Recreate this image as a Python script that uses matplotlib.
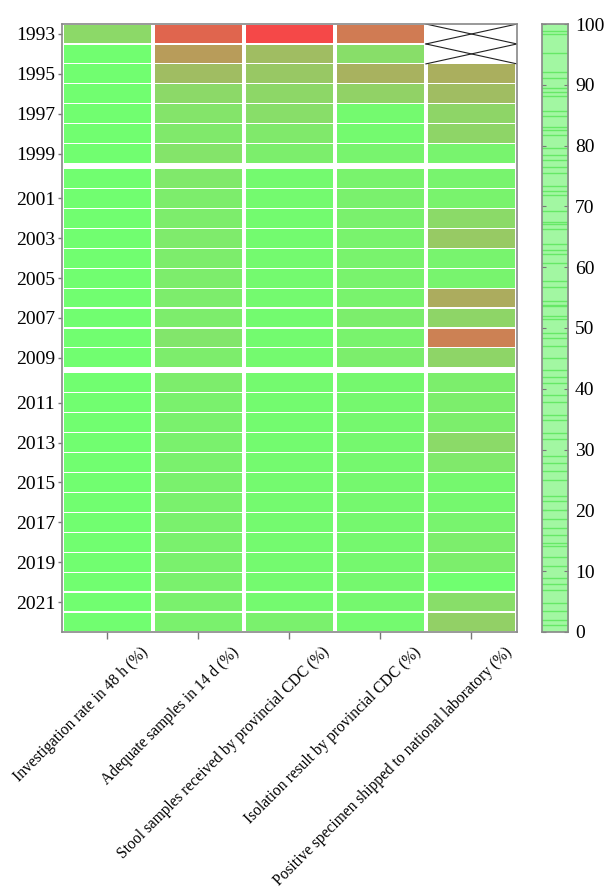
import matplotlib
matplotlib.use("Agg")
import matplotlib.pyplot as plt
import numpy as np
from matplotlib.colors import LinearSegmentedColormap, ListedColormap, Normalize
from matplotlib.patches import Rectangle
from matplotlib.transforms import ScaledTranslation

plt.rcParams["font.family"] = ["Liberation Serif", "DejaVu Serif"]

years = list(range(1993, 2023))
indicators = [
    "Investigation rate in 48 h (%)",
    "Adequate samples in 14 d (%)",
    "Stool samples received by provincial CDC (%)",
    "Isolation result by provincial CDC (%)",
    "Positive specimen shipped to national laboratory (%)",
]

# values per indicator, 1993..2022 (nan = not available)
investigation = [89.5] + [99.5] * 29
adequate = [58, 73, 82, 89.5, 92.5, 94, 92.5, 94, 95, 95,
            94.5, 95, 95, 95, 95, 93, 95, 95, 96, 96,
            96, 96, 96, 96, 96, 96, 96, 96, 96, 96]
stool = [50, 82, 85, 89, 91, 94, 95.5, 98.5, 98.5, 99,
         99, 98.5, 98.5, 98.5, 99, 99, 98.5, 98.5, 99, 99,
         99, 98.5, 98.5, 98.5, 98.5, 98.5, 98.5, 98.5, 98.5, 96]
isolation = [64, 91, 79, 87.5, 98.5, 98.5, 97, 96.5, 96, 96,
             96.5, 96.5, 96.5, 96.5, 95.5, 96.5, 95.5, 98, 98, 98,
             98, 98, 98, 98, 98, 98, 98, 98, 98, 98.5]
shipped = [np.nan, np.nan, 78, 82, 88.5, 88.5, 97, 97, 96.5, 90,
           85.5, 97, 97, 77.5, 88.5, 65.5, 88.5, 95.5, 95.5, 95.5,
           90, 94, 98, 98, 97, 95.5, 95.5, 100, 91, 87]

# levels of the thin lines drawn in the colour bar
bar_lines = [98.9, 98.4, 95.2, 92.1, 91.1, 89.5, 88.9, 88.1, 85.7, 84.9,
             83.1, 82.6, 81.8, 79.6, 78.5, 77.6, 76.5, 75.5, 73.3, 72.6,
             71.9, 69.2, 67.5, 67.1, 66.2, 63.8, 62.9, 62.1, 60.7, 57.7,
             56.7, 54.5, 53.6, 53.7, 52.0, 51.4, 49.2, 48.4, 47.0, 45.1,
             43.1, 42.0, 40.9, 39.0, 37.9, 35.7, 34.9, 32.7, 31.8, 28.9,
             27.8, 26.4, 25.0, 22.3, 21.5, 20.1, 18.5, 17.1, 16.0, 14.6,
             14.1, 12.4, 10.8, 8.8, 7.8, 6.9, 4.8, 3.4, 2.0, 1.2]

data = np.array([investigation, adequate, stool, isolation, shipped], dtype=float).T

cmap = LinearSegmentedColormap.from_list("rg", ["#f54848", "#70ff70"])
norm = Normalize(vmin=50, vmax=100)

GAP = 0.25
ypos = [i + GAP * (y >= 2000) + GAP * (y >= 2010) for i, y in enumerate(years)]

fig = plt.figure(figsize=(6.09, 8.9), dpi=100)
ax = fig.add_axes([0.1018, 0.290, 0.747, 0.683])

for i, y in enumerate(ypos):
    for j in range(len(indicators)):
        v = data[i, j]
        if np.isnan(v):
            ax.add_patch(Rectangle((j - 0.5, y - 0.5), 1.0, 1.0,
                                   facecolor="white", edgecolor="none"))
            ax.plot([j - 0.5, j + 0.5], [y - 0.5, y + 0.5], color="#222222", lw=0.8)
            ax.plot([j - 0.5, j + 0.5], [y + 0.5, y - 0.5], color="#222222", lw=0.8)
        else:
            ax.add_patch(Rectangle((j - 0.48, y - 0.47), 0.96, 0.94,
                                   facecolor=cmap(norm(v)), edgecolor="none"))

ax.set_xlim(-0.5, len(indicators) - 0.5)
ax.set_ylim(ypos[-1] + 0.5, ypos[0] - 0.5)

ax.set_yticks([ypos[i] for i, y in enumerate(years) if y % 2 == 1])
ax.set_yticklabels([str(y) for y in years if y % 2 == 1], fontsize=14)
ax.set_xticks(range(len(indicators)))
ax.set_xticklabels(indicators, rotation=45, ha="right", va="center",
                   rotation_mode="anchor", fontsize=11.2)
ax.tick_params(axis="both", color="#777777", width=1)
ax.tick_params(axis="y", length=3, pad=2)
ax.tick_params(axis="x", length=5, pad=8)
shift = ScaledTranslation(0.38, 0, fig.dpi_scale_trans)
for lbl in ax.get_xticklabels():
    lbl.set_transform(lbl.get_transform() + shift)
for s in ax.spines.values():
    s.set_color("#888888")
    s.set_linewidth(1.2)

# colour bar
cax = fig.add_axes([0.890, 0.290, 0.0427, 0.683])
cax.imshow(np.linspace(0, 100, 2).reshape(-1, 1), aspect="auto",
           cmap=ListedColormap(["#a2f7a2"]), extent=[0, 1, 0, 100], origin="lower")
for lv in bar_lines:
    cax.axhline(lv, color="#66e866", lw=1.0)
cax.set_xlim(0, 1)
cax.set_ylim(0, 100)
cax.set_xticks([])
cax.set_yticks(range(0, 101, 10))
cax.yaxis.tick_right()
cax.tick_params(axis="y", direction="in", left=True, right=True, color="#777777",
                length=3, labelsize=14, pad=5)
for s in cax.spines.values():
    s.set_color("#888888")
    s.set_linewidth(1.2)

fig.savefig("out.png", dpi=100)
